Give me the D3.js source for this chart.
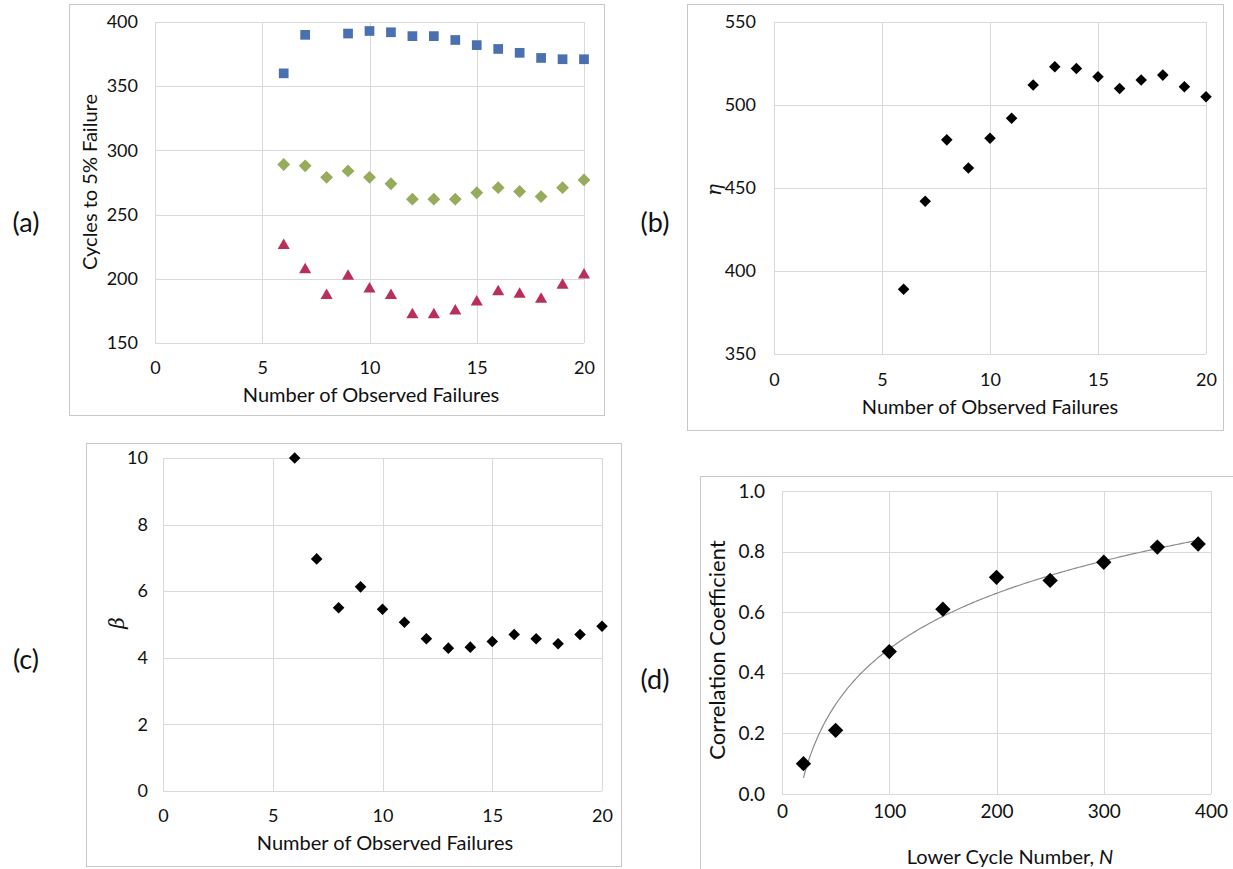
<!DOCTYPE html>
<html>
<head>
<meta charset="utf-8">
<script src="https://cdn.jsdelivr.net/npm/d3@7"></script>
<style>
  body { margin: 0; background: #fff; }
  svg { display: block; }
  text { font-family: Lato, "Open Sans", sans-serif; fill: #111; }
</style>
</head>
<body>
<div id="chart"></div>
<script>
// Number of observed failures (x for panels a, b, c)
var nFailures = [6, 7, 8, 9, 10, 11, 12, 13, 14, 15, 16, 17, 18, 19, 20];

// (a) cycles to 5% failure, three series
var cyclesUpper = [360, 390, null, 391, 393, 392, 389, 389, 386, 382, 379, 376, 372, 371, 371];
var cyclesMid = [289, 288, 279, 284, 279, 274, 262, 262, 262, 267, 271, 268, 264, 271, 277];
var cyclesLower = [226, 207, 187, 202, 192, 187, 172, 172, 175, 182, 190, 188, 184, 195, 203];

// (b) eta and (c) beta
var etaValues = [389, 442, 479, 462, 480, 492, 512, 523, 522, 517, 510, 515, 518, 511, 505];
var betaValues = [10.0, 6.97, 5.5, 6.13, 5.46, 5.07, 4.57, 4.29, 4.32, 4.49, 4.70, 4.57, 4.42, 4.70, 4.95];

// (d) correlation coefficient vs lower cycle number
var lowerCycle = [20, 50, 100, 150, 200, 250, 300, 350, 388];
var correlation = [0.10, 0.21, 0.47, 0.61, 0.715, 0.705, 0.765, 0.815, 0.825];

// tick labels
var failureTicks = [0, 5, 10, 15, 20];
var cycleTicks = [150, 200, 250, 300, 350, 400];
var etaTicks = [350, 400, 450, 500, 550];
var betaTicks = [0, 2, 4, 6, 8, 10];
var lowerCycleTicks = [0, 100, 200, 300, 400];
var corrTicks = [0, 0.2, 0.4, 0.6, 0.8, 1.0];

var svg = d3.select("#chart").append("svg")
    .attr("width", 1233)
    .attr("height", 869);

svg.append("rect").attr("width", 1233).attr("height", 869).attr("fill", "#fff");

var diamond = d3.symbol().type(d3.symbolDiamond2);
var square = d3.symbol().type(d3.symbolSquare2);
var triangle = d3.symbol().type(d3.symbolTriangle2);

function drawPanel(p) {
    var frame = p.frame, box = p.plot;
    var tickSize = p.tickSize || "18px";

    svg.append("rect")
        .attr("x", frame[0] + 0.5).attr("y", frame[1] + 0.5)
        .attr("width", frame[2] - frame[0]).attr("height", frame[3] - frame[1])
        .attr("fill", "#fff").attr("stroke", "#c8c8c8");

    svg.append("text")
        .attr("x", p.label[0]).attr("y", p.label[1])
        .attr("text-anchor", "middle").attr("dy", "0.35em")
        .style("font-size", "27px")
        .text(p.name);

    var x = d3.scaleLinear().domain(p.xDomain).range([box[0], box[2]]);
    var y = d3.scaleLinear().domain(p.yDomain).range([box[3], box[1]]);

    var g = svg.append("g");

    // gridlines
    g.selectAll(".vgrid").data(p.xTicks).enter().append("line")
        .attr("x1", d => Math.round(x(d)) + 0.5).attr("x2", d => Math.round(x(d)) + 0.5)
        .attr("y1", box[1]).attr("y2", box[3])
        .attr("stroke", "#d9d9d9");
    g.selectAll(".hgrid").data(p.yTicks).enter().append("line")
        .attr("y1", d => Math.round(y(d)) + 0.5).attr("y2", d => Math.round(y(d)) + 0.5)
        .attr("x1", box[0]).attr("x2", box[2])
        .attr("stroke", "#d9d9d9");

    // axes (labels only)
    var xAxis = d3.axisBottom(x).tickValues(p.xTicks).tickSize(0).tickPadding(0).tickFormat(p.xFormat || d3.format("d"));
    var xg = g.append("g")
        .attr("transform", "translate(0," + (box[3] + p.xTickOffset) + ")")
        .call(xAxis);
    xg.select(".domain").remove();
    xg.selectAll("text").attr("dy", "0.35em").attr("y", 0)
        .style("font-size", tickSize).attr("fill", "#111");

    var yAxis = d3.axisLeft(y).tickValues(p.yTicks).tickSize(0).tickPadding(0).tickFormat(p.yFormat || d3.format("d"));
    var yg = g.append("g")
        .attr("transform", "translate(" + (box[0] - p.yTickOffset) + ",0)")
        .call(yAxis);
    yg.select(".domain").remove();
    yg.selectAll("text").style("font-size", tickSize).attr("fill", "#111");

    // axis titles
    var xt = svg.append("text")
        .attr("x", p.xTitlePos[0]).attr("y", p.xTitlePos[1])
        .attr("text-anchor", "middle").attr("dy", "0.35em")
        .style("font-size", "20px");
    if (p.xTitleItalic) {
        xt.append("tspan").text(p.xTitle);
        xt.append("tspan").style("font-style", "italic").text(p.xTitleItalic);
    } else {
        xt.text(p.xTitle);
    }

    svg.append("text")
        .attr("transform", "translate(" + p.yTitlePos[0] + "," + p.yTitlePos[1] + ") rotate(-90)")
        .attr("text-anchor", "middle").attr("dy", "0.35em")
        .style("font-size", p.yTitleSize || "20px")
        .style("font-style", p.yTitleStyle || "normal")
        .style("font-family", p.yTitleFont || null)
        .text(p.yTitle);

    // markers
    p.series.forEach(function(s) {
        var pts = s.xs.map(function(xv, i) { return { x: xv, y: s.ys[i] }; })
            .filter(d => d.y !== null);
        g.selectAll(null).data(pts).enter().append("path")
            .attr("d", s.symbol.size(s.size)())
            .attr("transform", d => "translate(" + x(d.x) + "," + y(d.y) + ")")
            .attr("fill", s.color);
    });

    return { x: x, y: y, g: g };
}

drawPanel({
    name: "(a)", label: [26, 223],
    frame: [69, 4, 604, 415], plot: [155, 22, 584, 343],
    xDomain: [0, 20], yDomain: [150, 400],
    xTicks: failureTicks, yTicks: cycleTicks,
    xTickOffset: 25, yTickOffset: 17,
    xTitle: "Number of Observed Failures", xTitlePos: [371, 395],
    yTitle: "Cycles to 5% Failure", yTitlePos: [90, 182],
    series: [
        { xs: nFailures, ys: cyclesUpper, symbol: square, size: 120, color: "#4a70b0" },
        { xs: nFailures, ys: cyclesMid, symbol: diamond, size: 105, color: "#96ab5c" },
        { xs: nFailures, ys: cyclesLower, symbol: triangle, size: 105, color: "#b8305a" }
    ]
});

drawPanel({
    name: "(b)", label: [655, 223],
    frame: [687, 4, 1223, 430], plot: [774, 22, 1206, 354],
    xDomain: [0, 20], yDomain: [350, 550],
    xTicks: failureTicks, yTicks: etaTicks,
    xTickOffset: 26, yTickOffset: 18,
    xTitle: "Number of Observed Failures", xTitlePos: [990, 407],
    yTitle: "\u03b7", yTitlePos: [714, 190], yTitleStyle: "italic",
    yTitleFont: "'DejaVu Serif', serif", yTitleSize: "20px",
    series: [
        { xs: nFailures, ys: etaValues, symbol: diamond, size: 85, color: "#000" }
    ]
});

drawPanel({
    name: "(c)", label: [26, 660],
    frame: [86, 443, 621, 866], plot: [163, 458, 602, 791],
    xDomain: [0, 20], yDomain: [0, 10],
    xTicks: failureTicks, yTicks: betaTicks,
    xTickOffset: 25, yTickOffset: 15,
    xTitle: "Number of Observed Failures", xTitlePos: [385, 843],
    yTitle: "\u03b2", yTitlePos: [117, 623], yTitleStyle: "italic",
    yTitleFont: "'DejaVu Serif', serif", yTitleSize: "20px",
    series: [
        { xs: nFailures, ys: betaValues, symbol: diamond, size: 85, color: "#000" }
    ]
});

var pd = drawPanel({
    name: "(d)", label: [655, 680],
    frame: [700, 476, 1245, 880], plot: [782, 491, 1211, 794],
    xDomain: [0, 400], yDomain: [0, 1],
    xTicks: lowerCycleTicks, yTicks: corrTicks,
    xTickOffset: 17, yTickOffset: 17, tickSize: "19px",
    xFormat: d3.format("d"), yFormat: d3.format(".1f"),
    xTitle: "Lower Cycle Number, ", xTitleItalic: "N", xTitlePos: [1010, 857],
    yTitle: "Correlation Coefficient", yTitlePos: [717, 650], yTitleSize: "22px",
    series: []
});

// logarithmic trendline fitted (least squares) to the panel (d) points
var lnX = lowerCycle.map(Math.log);
var mx = d3.mean(lnX), my = d3.mean(correlation);
var slope = d3.sum(lnX, (v, i) => (v - mx) * (correlation[i] - my)) / d3.sum(lnX, v => (v - mx) * (v - mx));
var intercept = my - slope * mx;
var trendX = d3.scaleLinear().domain(d3.extent(lowerCycle)).ticks(120);
trendX[0] = d3.min(lowerCycle);
var trendLine = d3.line()
    .x(d => pd.x(d))
    .y(d => pd.y(slope * Math.log(d) + intercept))
    .curve(d3.curveMonotoneX);
pd.g.append("path")
    .attr("d", trendLine(trendX))
    .attr("fill", "none").attr("stroke", "#8c8c8c").attr("stroke-width", 1.2);

pd.g.selectAll(null).data(lowerCycle).enter().append("path")
    .attr("d", diamond.size(150)())
    .attr("transform", (d, i) => "translate(" + pd.x(d) + "," + pd.y(correlation[i]) + ")")
    .attr("fill", "#000");
</script>
</body>
</html>
